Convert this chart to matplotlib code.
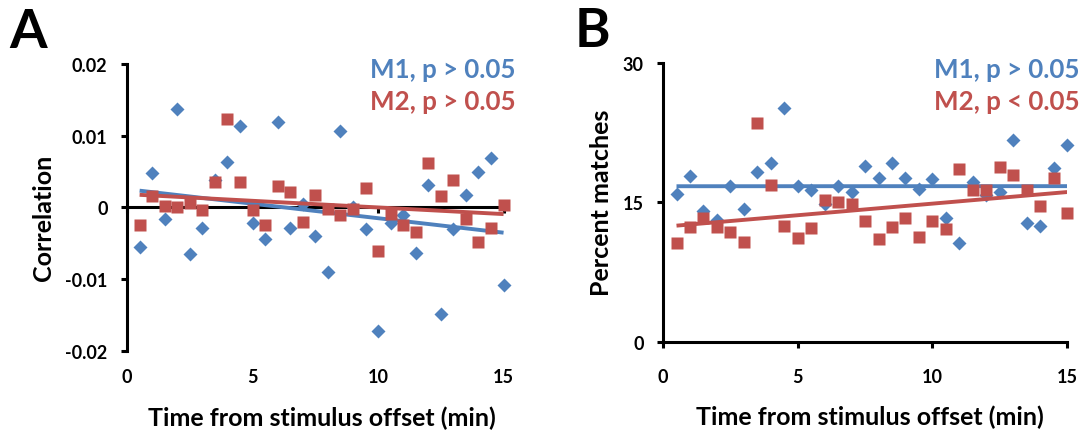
import numpy as np
import matplotlib
matplotlib.use("Agg")
from matplotlib import pyplot as plt

plt.rcParams['font.family'] = ['Lato', 'DejaVu Sans']
plt.rcParams['font.weight'] = 'bold'

# time points (min)
t = [0.5, 1, 1.5, 2, 2.5, 3, 3.5, 4, 4.5, 5, 5.5, 6, 6.5, 7, 7.5,
     8, 8.5, 9, 9.5, 10, 10.5, 11, 11.5, 12, 12.5, 13, 13.5, 14, 14.5, 15]

# panel A: correlation
corr_m1 = [-0.0055, 0.0048, -0.0016, 0.0137, -0.0065, -0.0028, 0.0039, 0.0063, 0.0113, -0.0022,
           -0.0044, 0.0119, -0.0029, 0.0005, -0.0040, -0.0090, 0.0107, 0.0000, -0.0030, -0.0172,
           -0.0021, -0.0010, -0.0063, 0.0031, -0.0149, -0.0030, 0.0017, 0.0049, 0.0069, -0.0108]
corr_m2 = [-0.0024, 0.0016, 0.0002, 0.0000, 0.0006, -0.0004, 0.0036, 0.0124, 0.0036, -0.0004,
           -0.0024, 0.0030, 0.0022, -0.0020, 0.0018, -0.0002, -0.0010, -0.0002, 0.0027, -0.0061,
           -0.0009, -0.0025, -0.0034, 0.0062, 0.0016, 0.0039, -0.0016, -0.0048, -0.0028, 0.0004]

# panel B: percent matches
pct_m1 = [15.9, 17.8, 14.1, 13.1, 16.8, 14.3, 18.3, 19.2, 25.2, 16.8,
          16.3, 14.8, 16.8, 16.1, 18.9, 17.6, 19.2, 17.6, 16.4, 17.5,
          13.3, 10.6, 17.2, 15.8, 16.1, 21.7, 12.8, 12.5, 18.7, 21.2]
pct_m2 = [10.6, 12.4, 13.3, 12.4, 11.8, 10.8, 23.5, 16.9, 12.5, 11.2,
          12.3, 15.3, 15.0, 14.8, 13.0, 11.1, 12.4, 13.3, 11.3, 13.0,
          12.2, 18.6, 16.3, 16.3, 18.8, 18.0, 16.3, 14.6, 17.6, 13.9]

xticks = [0, 5, 10, 15]

BLUE = '#4F81BD'
RED = '#C0504D'

fig = plt.figure(figsize=(10.85, 4.31), dpi=100)
axA = fig.add_axes([0.1171, 0.1833, 0.347, 0.6659])
axB = fig.add_axes([0.6111, 0.2042, 0.3724, 0.6473])


def draw(ax, y1, y2):
    x = np.array(t)
    ax.plot(x, y1, 'D', color=BLUE, ms=7.5, mec='none', zorder=3, clip_on=False)
    k1 = np.polyfit(x, y1, 1)
    ax.plot(x, np.polyval(k1, x), color=BLUE, lw=2.8, zorder=4, solid_capstyle='butt')
    ax.plot(x, y2, 's', color=RED, ms=9, mec='none', zorder=5, clip_on=False)
    k2 = np.polyfit(x, y2, 1)
    ax.plot(x, np.polyval(k2, x), color=RED, lw=2.8, zorder=6, solid_capstyle='butt')
    ax.set_xlim(0, 15)
    for s in ['top', 'right']:
        ax.spines[s].set_visible(False)
    ax.spines['left'].set_linewidth(2.2)
    ax.spines['bottom'].set_linewidth(2.2)
    ax.tick_params(axis='y', direction='out', length=4, width=2.2, pad=10, labelsize=13)


draw(axA, corr_m1, corr_m2)
axA.set_ylim(-0.02, 0.02)
axA.set_yticks([-0.02, -0.01, 0, 0.01, 0.02])
axA.set_yticklabels(['-0.02', '-0.01', '0', '0.01', '0.02'])
axA.spines['bottom'].set_position(('data', 0))
axA.spines['bottom'].set_zorder(2)
axA.set_xticks(xticks)
axA.tick_params(axis='x', direction='out', length=4, width=2.2, labelbottom=False)
secA = axA.secondary_xaxis('bottom')
secA.spines['bottom'].set_visible(False)
secA.set_xticks(xticks)
secA.tick_params(axis='x', length=0, pad=12, labelsize=13)
axA.set_ylabel('Correlation', fontsize=18, fontweight='bold', va='center')
axA.yaxis.set_label_coords(-0.223, 0.467)
axA.set_xlabel('Time from stimulus offset (min)', fontsize=18, fontweight='bold', va='center')
axA.xaxis.set_label_coords(0.518, -0.23)

draw(axB, pct_m1, pct_m2)
axB.set_ylim(0, 30)
axB.set_yticks([0, 15, 30])
axB.set_xticks(xticks)
axB.tick_params(axis='x', direction='out', length=4, width=2.2, pad=15, labelsize=13)
axB.set_ylabel('Percent matches', fontsize=18, fontweight='bold', va='center')
axB.yaxis.set_label_coords(-0.153, 0.502)
axB.set_xlabel('Time from stimulus offset (min)', fontsize=18, fontweight='bold', va='center')
axB.xaxis.set_label_coords(0.512, -0.265)

# panel letters and significance labels
fig.text(9 / 1085, 1 - 48 / 431, 'A', fontsize=39, fontweight='bold', va='baseline')
fig.text(575 / 1085, 1 - 47 / 431, 'B', fontsize=39, fontweight='bold', va='baseline')
fig.text(516 / 1085, 1 - 78 / 431, 'M1, p > 0.05', color=BLUE, fontsize=18.6, fontweight='bold',
         ha='right', va='baseline')
fig.text(516 / 1085, 1 - 110 / 431, 'M2, p > 0.05', color=RED, fontsize=18.6, fontweight='bold',
         ha='right', va='baseline')
fig.text(1080 / 1085, 1 - 78 / 431, 'M1, p > 0.05', color=BLUE, fontsize=18.6, fontweight='bold',
         ha='right', va='baseline')
fig.text(1080 / 1085, 1 - 110 / 431, 'M2, p < 0.05', color=RED, fontsize=18.6, fontweight='bold',
         ha='right', va='baseline')

fig.savefig('out.png', dpi=100)
